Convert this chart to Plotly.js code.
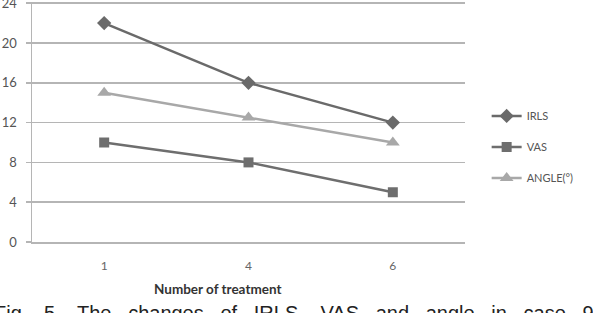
<!DOCTYPE html>
<html>
<head>
<meta charset="utf-8">
<script src="https://cdn.plot.ly/plotly-3.0.1.min.js"></script>
<style>html,body{margin:0;padding:0;background:#fff;}#chart{width:593px;height:313px;}</style>
</head>
<body>
<div id="chart"></div>
<script>
var categories = ["1", "4", "6"];
var irls = [22, 16, 12];
var vas = [10, 8, 5];
var angle = [15, 12.5, 10];
var yTicks = [0, 4, 8, 12, 16, 20, 24];
var seriesNames = ["IRLS", "VAS", "ANGLE(°)"];
var xTitle = "Number of treatment";
var caption = "Fig.&nbsp;&nbsp; 5.&nbsp;&nbsp; The&nbsp;&nbsp; changes&nbsp;&nbsp; of&nbsp;&nbsp; IRLS,&nbsp;&nbsp; VAS&nbsp;&nbsp; and&nbsp;&nbsp; angle&nbsp;&nbsp; in&nbsp;&nbsp; case&nbsp;&nbsp; 9";

var traces = [
  {x: categories, y: irls, name: seriesNames[0], type: "scatter", mode: "lines+markers", legendgroup: "a",
   line: {color: "#6a6a6a", width: 2.5}, marker: {symbol: "diamond", size: 11, color: "#6a6a6a"}},
  {x: categories, y: vas, name: seriesNames[1], type: "scatter", mode: "lines+markers", legendgroup: "b",
   line: {color: "#6e6e6e", width: 2.5}, marker: {symbol: "square", size: 10, color: "#6e6e6e"}},
  {x: categories, y: angle, name: seriesNames[2], type: "scatter", mode: "lines+markers", legendgroup: "c",
   line: {color: "#a8a8a8", width: 2.5}, marker: {symbol: "triangle-up", size: 12, color: "#a8a8a8"}}
];

var layout = {
  width: 593, height: 313,
  margin: {l: 32, r: 128, t: 2, b: 71},
  paper_bgcolor: "#ffffff", plot_bgcolor: "#ffffff",
  font: {family: "Lato, 'Open Sans', sans-serif", color: "#555555", size: 11},
  showlegend: true,
  legend: {x: 1.05, xanchor: "left", y: 0.396, yanchor: "middle", tracegroupgap: 12,
           font: {size: 11, color: "#555555"}, bgcolor: "rgba(0,0,0,0)"},
  xaxis: {type: "category", range: [-0.5, 2.5], showgrid: false, zeroline: false, showline: true, linecolor: "#b5b5b5", linewidth: 1.5,
          ticks: "", tickfont: {size: 12, color: "#666666"}, ticklabelstandoff: 12, fixedrange: true},
  yaxis: {range: [0, 24.12], tickvals: yTicks, ticktext: yTicks.map(String), showgrid: true, gridcolor: "#b5b5b5", gridwidth: 1.5,
          zeroline: false, showline: true, linecolor: "#b5b5b5", linewidth: 1.5, ticks: "outside", ticklen: 5,
          tickcolor: "#b5b5b5", tickwidth: 1.5, tickfont: {size: 13, color: "#555555"}, ticklabelstandoff: 6,
          ticklabeloverflow: "allow", fixedrange: true},
  annotations: [
    {text: "<b>" + xTitle + "</b>", xref: "paper", yref: "paper", x: 0.428, y: -0.155, xanchor: "center", yanchor: "top",
     showarrow: false, font: {size: 13.5, color: "#333333", family: "Lato, 'Open Sans', sans-serif"}},
    {text: caption, xref: "paper", yref: "paper", x: -0.092, y: -0.24,
     xanchor: "left", yanchor: "top", showarrow: false,
     font: {size: 20, color: "#222222", family: "'Liberation Sans', Arial, sans-serif"}}
  ]
};

Plotly.newPlot("chart", traces, layout, {displayModeBar: false, staticPlot: true});
</script>
</body>
</html>
